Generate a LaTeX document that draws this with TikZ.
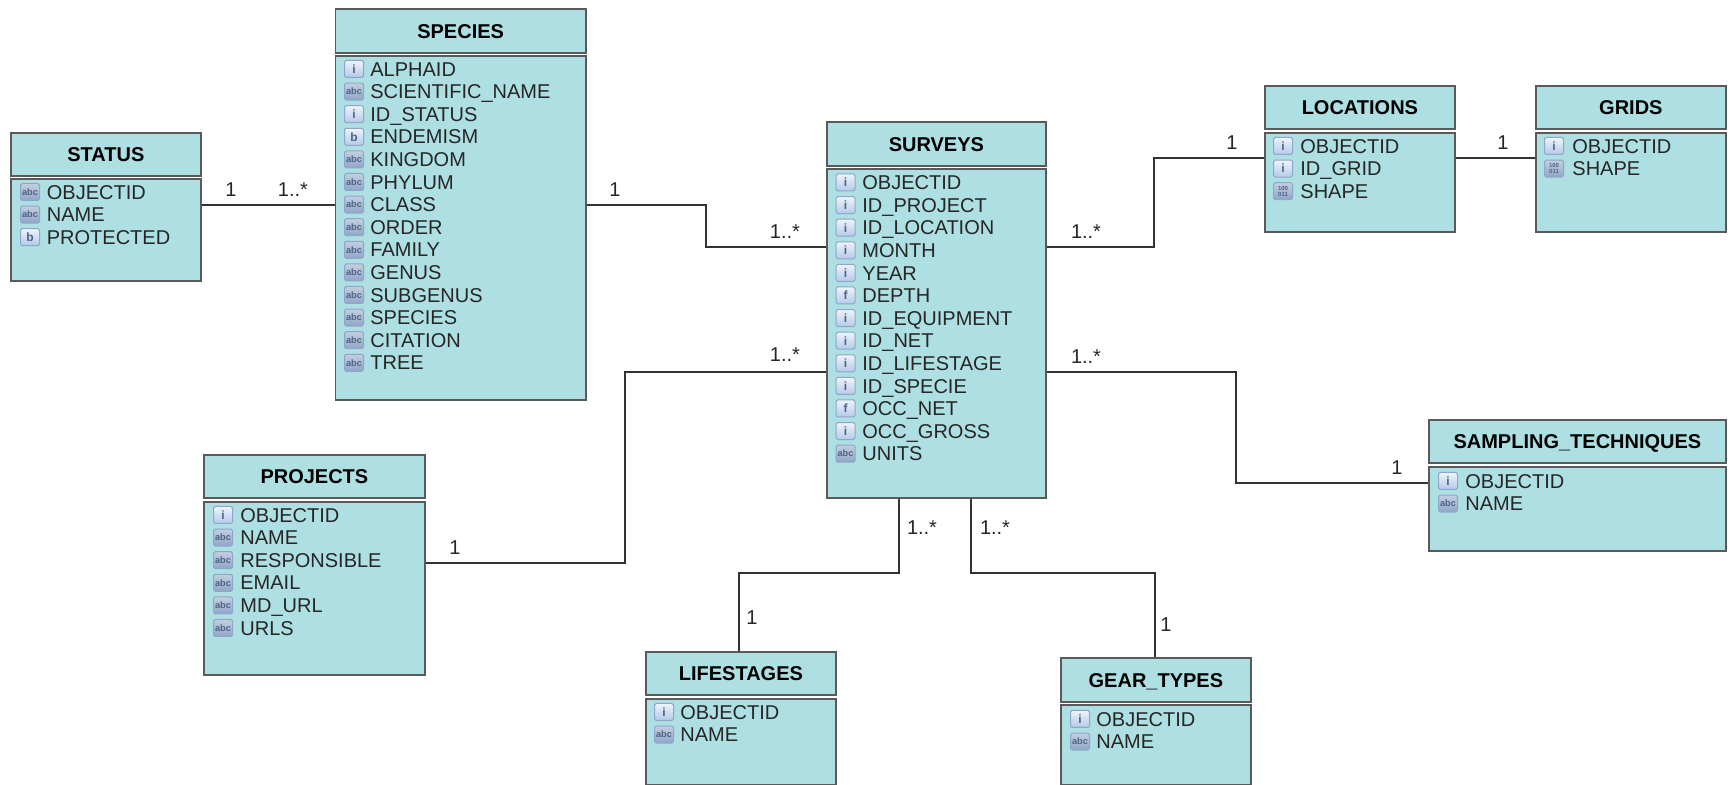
\documentclass[tikz,border=0pt]{standalone}
\usepackage{fontspec}
\setmainfont{Liberation Sans}
\usetikzlibrary{calc}
\definecolor{tablefill}{HTML}{AEDFE3}
\definecolor{tableline}{HTML}{5A5A5A}
\definecolor{iconline}{HTML}{8FA6CC}
\definecolor{iconink}{HTML}{4F6288}
\tikzset{
  panel/.style={draw=tableline,line width=0.9pt,fill=tablefill,inner sep=0pt},
  titletext/.style={font=\fontsize{10}{12}\selectfont\bfseries,text=black,inner sep=0pt,text height=7.2pt,text depth=0pt},
  fieldtext/.style={font=\fontsize{10}{12}\selectfont,text=black!85,anchor=west,inner sep=0pt,text height=7.2pt,text depth=0pt},
  icon/.style={draw=iconline,line width=0.5pt,top color=EEF3FA,bottom color=B4CAE8,rounded corners=0.8pt,minimum width=9.5pt,minimum height=8.5pt,inner sep=0pt,text=iconink,font=\fontsize{6}{6}\selectfont\bfseries},
  iconabc/.style={icon,top color=C4CFDF,bottom color=8FA6C6,font=\fontsize{4.6}{4.6}\selectfont\bfseries},
  iconbin/.style={icon,top color=C4CFDF,bottom color=8FA6C6,align=center,font=\fontsize{3}{3.2}\selectfont\bfseries},
  link/.style={draw=black!80,line width=1pt,line join=miter},
  mult/.style={font=\fontsize{10}{12}\selectfont,text=black!85,inner sep=0pt},
}
\definecolor{EEF3FA}{HTML}{EEF3FA}
\definecolor{B4CAE8}{HTML}{B4CAE8}
\definecolor{C4CFDF}{HTML}{C4CFDF}
\definecolor{8FA6C6}{HTML}{8FA6C6}
% name, left, right, top, header bottom, body top, bottom
\newcommand{\dbtable}[8]{%
  \node[panel,anchor=north west,minimum width=#3*0.5pt-#2*0.5pt,minimum height=#5*0.5pt-#4*0.5pt] (#1H) at (#2,#4) {};
  \node[panel,anchor=north west,minimum width=#3*0.5pt-#2*0.5pt,minimum height=#7*0.5pt-#6*0.5pt] (#1B) at (#2,#6) {};
  \node[titletext] (#1T) at (#1H.center) {#8};
}
% name, icon centre x, text x, first row y, rows (kind/text)
\newcommand{\dbrows}[5]{%
  \foreach \kind/\label [count=\rowno from 0] in {#5} {
    \pgfmathsetmacro{\rowy}{#4+22.6*\rowno}
    \node[\kind] (#1I\rowno) at (#2,\rowy) {\csname glyph\kind\endcsname};
    \node[fieldtext] (#1R\rowno) at (#3,\rowy) {\label};
  }%
}
\newcommand{\glyphiconint}{i}
\newcommand{\glyphiconflt}{f}
\newcommand{\glyphiconbool}{b}
\newcommand{\glyphiconabc}{abc}
\newcommand{\glyphiconbin}{100\\011}
\tikzset{iconint/.style={icon},iconflt/.style={icon},iconbool/.style={icon}}
\begin{document}
\begin{tikzpicture}[x=0.5pt,y=-0.5pt]
\useasboundingbox[fill=white] (0,0) rectangle (1730,785);

\coordinate (lnA) at (0,205);
\coordinate (lnB) at (706,205);
\coordinate (lnC) at (706,247);
\coordinate (lnD) at (1154,247);
\coordinate (lnE) at (1154,158);
\coordinate (lnF) at (1236,372);
\coordinate (lnG) at (1236,483);
\coordinate (lnH) at (625,372);
\coordinate (lnI) at (625,563);
\coordinate (lnJ) at (899,573);
\coordinate (lnK) at (739,573);
\coordinate (lnL) at (971,573);
\coordinate (lnM) at (1155,573);

\dbtable{status}{10}{200}{132}{175}{178}{280}{STATUS}
\dbrows{status}{30}{46.5}{192}{iconabc/OBJECTID,iconabc/NAME,iconbool/PROTECTED}

\dbtable{species}{334.5}{585}{8}{52}{55.5}{399}{SPECIES}
\dbrows{species}{354}{370}{69}{iconint/ALPHAID,iconabc/SCIENTIFIC\_NAME,iconint/ID\_STATUS,iconbool/ENDEMISM,iconabc/KINGDOM,iconabc/PHYLUM,iconabc/CLASS,iconabc/ORDER,iconabc/FAMILY,iconabc/GENUS,iconabc/SUBGENUS,iconabc/SPECIES,iconabc/CITATION,iconabc/TREE}

\dbtable{surveys}{826}{1045}{121}{165}{168.5}{497}{SURVEYS}
\dbrows{surveys}{845.5}{862}{182.5}{iconint/OBJECTID,iconint/ID\_PROJECT,iconint/ID\_LOCATION,iconint/MONTH,iconint/YEAR,iconflt/DEPTH,iconint/ID\_EQUIPMENT,iconint/ID\_NET,iconint/ID\_LIFESTAGE,iconint/ID\_SPECIE,iconflt/OCC\_NET,iconint/OCC\_GROSS,iconabc/UNITS}

\dbtable{locations}{1264}{1454}{85}{128.5}{132}{231.5}{LOCATIONS}
\dbrows{locations}{1283}{1300}{146}{iconint/OBJECTID,iconint/ID\_GRID,iconbin/SHAPE}

\dbtable{grids}{1535}{1725}{85}{128.5}{132}{231.5}{GRIDS}
\dbrows{grids}{1554}{1572}{146}{iconint/OBJECTID,iconbin/SHAPE}

\dbtable{projects}{203}{424}{454}{497.5}{501}{674}{PROJECTS}
\dbrows{projects}{223}{240}{515}{iconint/OBJECTID,iconabc/NAME,iconabc/RESPONSIBLE,iconabc/EMAIL,iconabc/MD\_URL,iconabc/URLS}

\dbtable{sampling}{1428}{1725}{419}{462.5}{466}{550}{SAMPLING\_TECHNIQUES}
\dbrows{sampling}{1448}{1465}{481}{iconint/OBJECTID,iconabc/NAME}

\dbtable{lifestages}{645}{835}{651}{694.5}{698}{784}{LIFESTAGES}
\dbrows{lifestages}{664}{680}{712}{iconint/OBJECTID,iconabc/NAME}

\dbtable{gear}{1060}{1250}{657}{701}{704.5}{784}{GEAR\_TYPES}
\dbrows{gear}{1080}{1096}{719}{iconint/OBJECTID,iconabc/NAME}

\draw[link] (statusB.east |- lnA) -- (speciesB.west |- lnA);
\draw[link] (speciesB.east |- lnB) -- (lnB) -- (lnC) -- (surveysB.west |- lnC);
\draw[link] (surveysB.east |- lnD) -- (lnD) -- (lnE) -- (locationsB.west |- lnE);
\draw[link] (locationsB.east |- lnE) -- (gridsB.west |- lnE);
\draw[link] (surveysB.east |- lnF) -- (lnF) -- (lnG) -- (samplingB.west |- lnG);
\draw[link] (surveysB.west |- lnH) -- (lnH) -- (lnI) -- (projectsB.east |- lnI);
\draw[link] (surveysB.south -| lnJ) -- (lnJ) -- (lnK) -- (lifestagesH.north -| lnK);
\draw[link] (surveysB.south -| lnL) -- (lnL) -- (lnM) -- (gearH.north -| lnM);

\node[mult] (m01) at (231,190) {1};
\node[mult] (m02) at (293,190) {1..*};
\node[mult] (m03) at (615,190) {1};
\node[mult] (m04) at (785,232) {1..*};
\node[mult] (m05) at (1086,232) {1..*};
\node[mult] (m06) at (1232,143) {1};
\node[mult] (m07) at (1503,143) {1};
\node[mult] (m08) at (1086,357) {1..*};
\node[mult] (m09) at (1397,468) {1};
\node[mult] (m10) at (785,355) {1..*};
\node[mult] (m11) at (455,548) {1};
\node[mult] (m12) at (922,528) {1..*};
\node[mult] (m13) at (995,528) {1..*};
\node[mult] (m14) at (752,618) {1};
\node[mult] (m15) at (1166,625) {1};
\end{tikzpicture}
\end{document}
